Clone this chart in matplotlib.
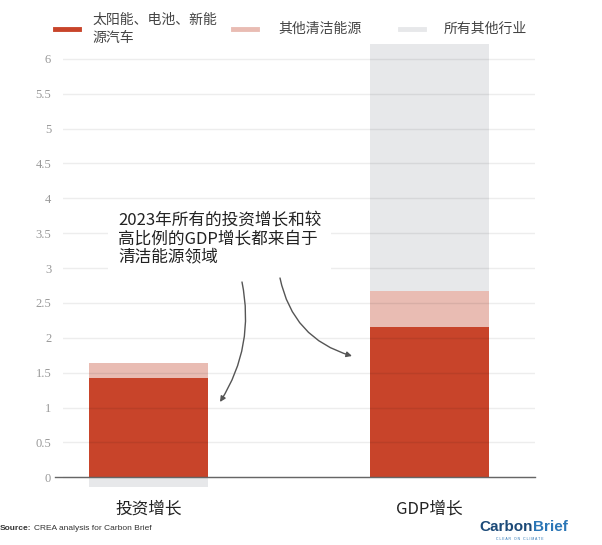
import numpy as np
import matplotlib
matplotlib.use('Agg')
import matplotlib.pyplot as plt
from matplotlib.lines import Line2D

plt.rcParams['font.family'] = ['Noto Sans CJK SC', 'DejaVu Sans']

# contribution to 2023 growth, percentage points
categories = ['投资增长', 'GDP增长']
series_names = ['太阳能、电池、新能\n源汽车', '其他清洁能源', '所有其他行业']
solar_ev = np.array([1.42, 2.16])
other_clean = np.array([0.22, 0.51])
all_other = np.array([-0.14, 3.54])
yticks = np.arange(0, 6.01, 0.5)
ytick_labels = ['0', '0.5', '1', '1.5', '2', '2.5', '3', '3.5', '4', '4.5', '5', '5.5', '6']

colors = ['#c8442a', '#e9bcb3', '#e7e8ea']

fig = plt.figure(figsize=(6.02, 5.45), dpi=100)
ax = fig.add_axes([63 / 602, 53 / 545, 472 / 602, 452 / 545])

x = np.arange(len(categories))
w = 0.421
ax.bar(x, solar_ev, w, color=colors[0], zorder=1)
ax.bar(x, other_clean, w, bottom=solar_ev, color=colors[1], zorder=1)
rest_bottom = np.where(all_other < 0, 0, solar_ev + other_clean)
ax.bar(x, all_other, w, bottom=rest_bottom, color=colors[2], zorder=1)

ax.set_xlim(-0.304, 1.375)
ax.set_ylim(-0.21, 6.27)
ax.set_yticks(yticks)
ax.set_yticklabels(ytick_labels, family='Liberation Serif', color='#999999', fontsize=9)
ax.tick_params(axis='y', length=0, pad=8.5)
ax.set_xticks(x)
ax.set_xticklabels(categories, fontsize=12, color='#222222')
ax.tick_params(axis='x', length=0, pad=6)

ax.set_axisbelow(False)
ax.yaxis.grid(True, color='black', alpha=0.07, lw=1)
for s in ax.spines.values():
    s.set_visible(False)
ax.axhline(0, xmin=-8 / 472, xmax=1, color='#666666', lw=1, clip_on=False, zorder=3)

# note with arrows
fig.text(118 / 602, 1 - 212 / 545,
         '2023年所有的投资增长和较\n高比例的GDP增长都来自于\n清洁能源领域',
         fontsize=12, color='#222222', va='top', ha='left', linespacing=1.08,
         bbox=dict(facecolor='white', edgecolor='none', boxstyle='square,pad=0.6'),
         zorder=5)
arrow_kw = dict(arrowstyle='-|>', color='#555555', lw=1, mutation_scale=8, shrinkA=0, shrinkB=0)
ax.annotate('', xy=(220, 545 - 402), xytext=(242, 545 - 282),
            xycoords='figure pixels', textcoords='figure pixels',
            arrowprops=dict(connectionstyle='arc3,rad=-0.2', **arrow_kw))
ax.annotate('', xy=(352, 545 - 356), xytext=(280, 545 - 278),
            xycoords='figure pixels', textcoords='figure pixels',
            arrowprops=dict(connectionstyle='arc3,rad=0.3', **arrow_kw))

# legend
legend_pos = [(55, 92), (233, 278), (400, 444)]
for (lx, tx), name, c in zip(legend_pos, series_names, colors):
    fig.add_artist(Line2D([lx / 602, (lx + 24) / 602], [1 - 29 / 545] * 2, color=c, lw=3.5))
    fig.text(tx / 602, 1 - 29 / 545, name, fontsize=10, color='#444444',
             va='center', ha='left', linespacing=1.35)

# footer
renderer = fig.canvas.get_renderer()
src = fig.text(0.0, 1 - 528 / 545, 'Source:', fontsize=6, fontweight='bold', color='#333333',
               va='center', ha='left', family='Liberation Sans')
x_end = src.get_window_extent(renderer).x1
fig.text((x_end + 2) / 602, 1 - 528 / 545, 'CREA analysis for Carbon Brief', fontsize=6,
         color='#333333', va='center', ha='left', family='Liberation Sans')

logo_a = fig.text(479 / 602, 1 - 527 / 545, 'Carbon', fontsize=11, fontweight='bold',
                  color='#1c4a78', va='center', ha='left', family='Liberation Sans')
x_end = logo_a.get_window_extent(renderer).x1
fig.text(x_end / 602, 1 - 527 / 545, 'Brief', fontsize=11, fontweight='bold', color='#2b76b6',
         va='center', ha='left', family='Liberation Sans')
fig.text(520 / 602, 1 - 539 / 545, 'C L E A R   O N   C L I M A T E', fontsize=2.5,
         color='#2b76b6', va='center', ha='center', family='Liberation Sans')

fig.savefig('out.png', dpi=100)
